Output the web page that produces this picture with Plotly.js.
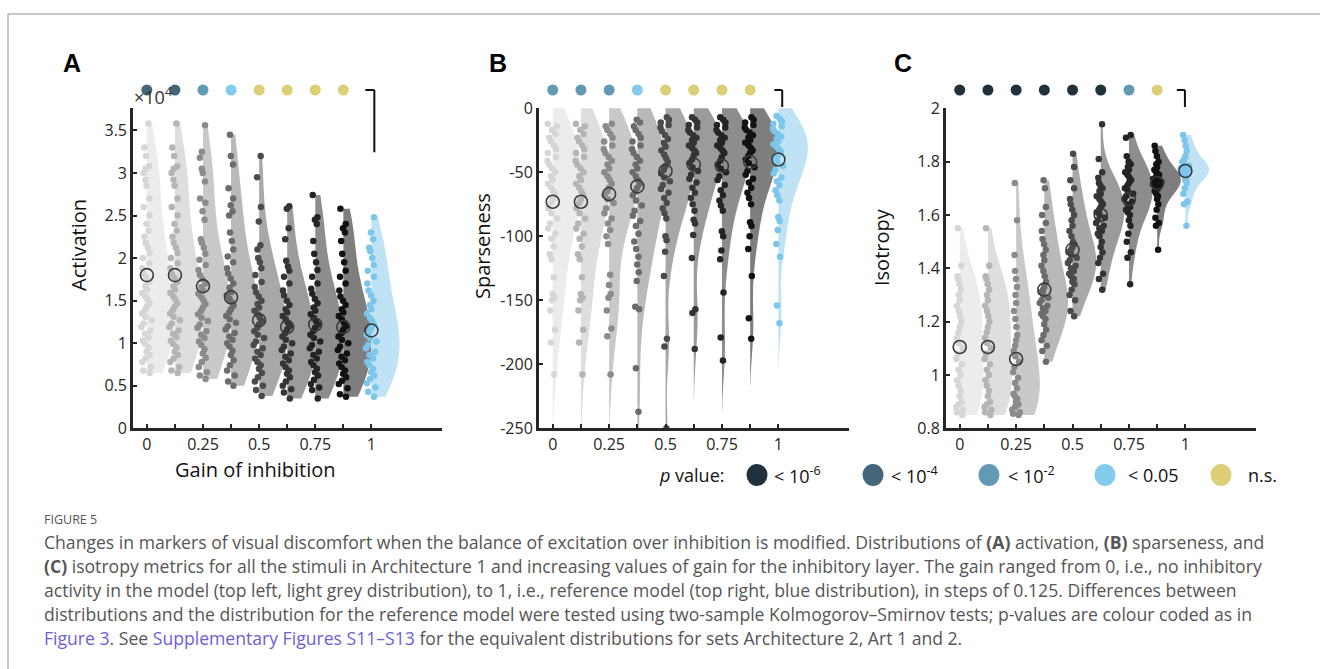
<!DOCTYPE html>
<html><head><meta charset="utf-8">
<script src="https://cdn.plot.ly/plotly-3.0.1.min.js"></script>
<style>body{margin:0;background:#fff}#plot{width:1320px;height:669px}</style>
</head><body><div id="plot"></div>
<script>
// ---------------- DATA ----------------
const gains = [0, 0.125, 0.25, 0.375, 0.5, 0.625, 0.75, 0.875, 1];
const xLabelVals = [0, 0.25, 0.5, 0.75, 1];
const xTickText = ['0', '0.25', '0.5', '0.75', '1'];

// Panel A: Activation (x 10^4)
const actG0 = [0.65,0.68,0.72,0.78,0.82,0.86,0.90,0.95,0.99,1.03,1.07,1.11,1.15,1.19,1.23,1.27,1.31,1.35,1.39,1.43,1.47,1.51,1.55,1.59,1.63,1.67,1.72,1.77,1.82,1.88,1.94,2.00,2.06,2.12,2.18,2.25,2.32,2.40,2.50,2.60,2.70,2.85,2.92,3.00,3.05,3.08,3.20,3.30,3.58];
const actG1 = [0.65,0.68,0.72,0.78,0.82,0.86,0.90,0.95,0.99,1.03,1.07,1.11,1.15,1.19,1.23,1.27,1.31,1.35,1.39,1.43,1.47,1.51,1.55,1.59,1.63,1.67,1.72,1.77,1.82,1.88,1.94,2.00,2.06,2.12,2.18,2.25,2.32,2.40,2.50,2.60,2.70,2.85,2.92,3.00,3.05,3.08,3.20,3.30,3.58];
const actG2 = [0.58,0.62,0.66,0.72,0.78,0.83,0.88,0.93,0.98,1.02,1.06,1.10,1.14,1.18,1.22,1.26,1.30,1.34,1.38,1.42,1.46,1.50,1.54,1.58,1.62,1.66,1.70,1.75,1.80,1.86,1.92,1.98,2.05,2.12,2.18,2.22,2.45,2.55,2.65,2.70,2.90,3.00,3.05,3.18,3.25,3.56];
const actG3 = [0.50,0.55,0.62,0.68,0.74,0.80,0.86,0.91,0.96,1.00,1.04,1.08,1.12,1.16,1.20,1.24,1.28,1.32,1.36,1.40,1.44,1.48,1.52,1.56,1.60,1.65,1.70,1.76,1.82,1.88,1.95,2.02,2.10,2.20,2.30,2.50,2.55,2.62,2.70,2.82,3.10,3.20,3.45];
const actG4 = [0.38,0.45,0.50,0.55,0.60,0.65,0.70,0.74,0.78,0.82,0.86,0.90,0.94,0.98,1.02,1.06,1.10,1.14,1.18,1.22,1.26,1.30,1.34,1.38,1.42,1.46,1.50,1.55,1.60,1.66,1.72,1.80,1.88,1.95,2.00,2.10,2.15,2.43,2.60,2.95,3.20];
const actG5 = [0.35,0.42,0.46,0.50,0.55,0.60,0.64,0.68,0.72,0.76,0.80,0.84,0.88,0.92,0.96,1.00,1.04,1.08,1.12,1.16,1.20,1.24,1.28,1.32,1.36,1.40,1.45,1.50,1.56,1.62,1.70,1.78,1.85,1.90,1.97,2.22,2.35,2.58,2.61];
const actG6 = [0.35,0.45,0.48,0.52,0.57,0.62,0.66,0.70,0.74,0.78,0.82,0.86,0.90,0.94,0.98,1.02,1.06,1.10,1.14,1.18,1.22,1.26,1.30,1.34,1.38,1.42,1.47,1.52,1.58,1.64,1.70,1.78,1.86,1.95,2.05,2.20,2.40,2.45,2.48,2.74];
const actG7 = [0.37,0.40,0.47,0.52,0.56,0.60,0.64,0.68,0.72,0.76,0.80,0.84,0.88,0.92,0.96,1.00,1.04,1.08,1.12,1.16,1.20,1.24,1.28,1.32,1.36,1.40,1.45,1.50,1.55,1.62,1.70,1.78,1.85,1.95,2.05,2.20,2.30,2.35,2.40,2.58];
const actG8 = [0.37,0.43,0.48,0.53,0.58,0.62,0.66,0.70,0.74,0.78,0.82,0.86,0.90,0.94,0.98,1.02,1.06,1.10,1.14,1.18,1.22,1.26,1.30,1.35,1.40,1.45,1.50,1.56,1.62,1.70,1.78,1.85,1.92,2.00,2.08,2.12,2.22,2.30,2.48];
const actMeans = [1.80, 1.80, 1.67, 1.54, 1.27, 1.19, 1.22, 1.19, 1.15];
const actTicks = [0, 0.5, 1, 1.5, 2, 2.5, 3, 3.5];
const actTickText = ['0', '0.5', '1', '1.5', '2', '2.5', '3', '3.5'];

// Panel B: Sparseness
const spaG0 = [-12,-14,-17,-20,-23,-26,-29,-32,-35,-38,-41,-44,-47,-50,-53,-56,-59,-62,-65,-68,-71,-74,-78,-82,-86,-90,-94,-98,-102,-108,-114,-118,-132,-145,-148,-150,-158,-173,-183,-208];
const spaG1 = [-12,-14,-17,-20,-23,-26,-29,-32,-35,-38,-41,-44,-47,-50,-53,-56,-59,-62,-65,-68,-71,-74,-78,-82,-86,-90,-94,-98,-102,-108,-114,-118,-132,-145,-148,-150,-158,-173,-183,-208];
const spaG2 = [-12,-14,-17,-20,-23,-26,-29,-32,-35,-38,-41,-44,-47,-50,-53,-56,-59,-62,-65,-68,-71,-74,-78,-82,-86,-90,-95,-100,-106,-130,-138,-145,-148,-158,-172,-178,-208];
const spaG3 = [-9,-11,-14,-17,-20,-23,-26,-29,-32,-35,-38,-41,-44,-47,-50,-53,-56,-59,-62,-65,-68,-72,-76,-80,-84,-88,-92,-98,-104,-110,-116,-122,-128,-135,-155,-157,-203,-237];
const spaG4 = [-7,-9,-11,-13,-15,-18,-21,-24,-27,-30,-33,-36,-39,-42,-45,-48,-51,-54,-57,-60,-63,-66,-70,-74,-78,-82,-86,-100,-103,-112,-131,-180,-186,-250];
const spaG5 = [-7,-9,-11,-13,-15,-17,-19,-21,-23,-25,-27,-29,-31,-33,-35,-37,-40,-43,-46,-49,-52,-55,-58,-62,-66,-70,-75,-80,-87,-90,-99,-117,-157,-160,-188];
const spaG6 = [-7,-9,-11,-13,-15,-17,-19,-21,-23,-25,-27,-29,-31,-33,-35,-38,-41,-44,-47,-50,-53,-56,-60,-64,-68,-72,-76,-80,-96,-100,-111,-118,-144,-179,-197];
const spaG7 = [-7,-9,-11,-13,-15,-17,-19,-21,-23,-25,-27,-29,-31,-33,-35,-37,-40,-43,-46,-49,-52,-55,-58,-62,-66,-70,-75,-89,-92,-100,-110,-131,-164,-180];
const spaG8 = [-6,-8,-10,-12,-14,-16,-18,-20,-22,-24,-26,-28,-30,-32,-34,-36,-38,-40,-42,-45,-48,-51,-54,-57,-60,-64,-68,-72,-85,-88,-95,-106,-116,-154,-168];
const spaMeans = [-73, -73, -67, -61, -49, -44, -45, -42, -40];
const spaTicks = [-250, -200, -150, -100, -50, 0];
const spaTickText = ['-250', '-200', '-150', '-100', '-50', '0'];

// Panel C: Isotropy
const isoG0 = [0.85,0.86,0.87,0.88,0.89,0.90,0.92,0.94,0.96,0.98,1.00,1.02,1.04,1.06,1.08,1.10,1.12,1.14,1.16,1.18,1.20,1.22,1.24,1.26,1.28,1.30,1.32,1.34,1.36,1.37,1.41,1.55];
const isoG1 = [0.85,0.86,0.87,0.88,0.89,0.90,0.92,0.94,0.96,0.98,1.00,1.02,1.04,1.06,1.08,1.10,1.12,1.14,1.16,1.18,1.20,1.22,1.24,1.26,1.28,1.30,1.32,1.34,1.36,1.37,1.41,1.55];
const isoG2 = [0.85,0.855,0.86,0.87,0.88,0.89,0.90,0.91,0.92,0.93,0.95,0.97,0.99,1.01,1.03,1.05,1.07,1.09,1.11,1.13,1.15,1.18,1.21,1.24,1.27,1.30,1.33,1.36,1.39,1.45,1.58,1.72];
const isoG3 = [1.05,1.09,1.11,1.13,1.15,1.17,1.19,1.21,1.22,1.23,1.24,1.25,1.26,1.27,1.28,1.29,1.30,1.31,1.32,1.33,1.35,1.37,1.39,1.41,1.43,1.45,1.47,1.49,1.51,1.54,1.57,1.60,1.63,1.70,1.73];
const isoG4 = [1.22,1.24,1.28,1.30,1.32,1.34,1.35,1.36,1.37,1.38,1.39,1.40,1.41,1.42,1.43,1.44,1.45,1.46,1.47,1.48,1.49,1.50,1.52,1.54,1.56,1.58,1.60,1.62,1.64,1.66,1.70,1.73,1.78,1.83];
const isoG5 = [1.32,1.36,1.38,1.42,1.44,1.46,1.48,1.50,1.52,1.53,1.54,1.55,1.56,1.57,1.58,1.59,1.60,1.61,1.62,1.63,1.64,1.65,1.66,1.67,1.68,1.69,1.70,1.71,1.72,1.74,1.76,1.81,1.94];
const isoG6 = [1.34,1.44,1.46,1.50,1.53,1.56,1.58,1.60,1.61,1.62,1.63,1.64,1.65,1.66,1.67,1.68,1.69,1.70,1.71,1.72,1.73,1.74,1.75,1.76,1.77,1.78,1.79,1.80,1.82,1.89,1.90];
const isoG7 = [1.47,1.56,1.57,1.59,1.62,1.64,1.66,1.67,1.68,1.69,1.70,1.705,1.71,1.715,1.72,1.725,1.73,1.735,1.74,1.745,1.75,1.755,1.76,1.77,1.78,1.79,1.80,1.82,1.84,1.86];
const isoG8 = [1.56,1.64,1.65,1.68,1.70,1.72,1.73,1.74,1.75,1.755,1.76,1.765,1.77,1.775,1.78,1.785,1.79,1.80,1.81,1.82,1.84,1.86,1.88,1.90];
const isoMeans = [1.105, 1.105, 1.06, 1.32, 1.47, 1.60, 1.66, 1.72, 1.765];
const isoTicks = [0.8, 1, 1.2, 1.4, 1.6, 1.8, 2];
const isoTickText = ['0.8', '1', '1.2', '1.4', '1.6', '1.8', '2'];

// p-value significance level per gain (vs reference), index into pLabels
const pLabels = ['< 10<sup>-6</sup>', '< 10<sup>-4</sup>', '< 10<sup>-2</sup>', '< 0.05', 'n.s.'];
const actP = [1, 1, 2, 3, 4, 4, 4, 4];
const spaP = [2, 2, 2, 3, 4, 4, 4, 4];
const isoP = [0, 0, 0, 0, 0, 0, 2, 4];

// ---------------- STYLE ----------------
const pColors = ['#1f323c', '#446679', '#6499b6', '#85cbee', '#dccf78'];
const pointColors = ['#d6d6d6', '#b5b5b5', '#8b8b8b', '#6c6c6c', '#4b4b4b', '#343434', '#242424', '#121212', '#7cc6ec'];
const violinFills = ['#ececec', '#dedede', '#c9c9c9', '#b9b9b9', '#a8a8a8', '#9b9b9b', '#8d8d8d', '#7e7e7e', '#bfe2f5'];
const W = 1320, H = 669;
const px = x => x / W;
const py = y => 1 - y / H;
const font = 'Open Sans, Noto Sans, DejaVu Sans, sans-serif';
const axColor = '#262626';

const panels = [
  {groups:[actG0,actG1,actG2,actG3,actG4,actG5,actG6,actG7,actG8], means:actMeans, p:actP, xa:'x', ya:'y', range:[0,3.76], ticks:actTicks, tickText:actTickText, dom:[132.7,441.7], width:0.25, span:'hard'},
  {groups:[spaG0,spaG1,spaG2,spaG3,spaG4,spaG5,spaG6,spaG7,spaG8], means:spaMeans, p:spaP, xa:'x2', ya:'y2', range:[-250,0], ticks:spaTicks, tickText:spaTickText, dom:[538.5,849], width:0.26, span:'soft'},
  {groups:[isoG0,isoG1,isoG2,isoG3,isoG4,isoG5,isoG6,isoG7,isoG8], means:isoMeans, p:isoP, xa:'x3', ya:'y3', range:[0.8,2.0], ticks:isoTicks, tickText:isoTickText, dom:[945.5,1256], width:0.21, span:'hard'}
];
const yDom = [py(428.3), py(108.3)];
const xRange = [-0.063, 1.313];
const dotY = 1 + (428.3 - 90 - 320) / 320;   // y-domain position of the significance dots / bracket

const traces = [];
const layout = {
  width: W, height: H, autosize: false,
  margin: {l:0, r:0, t:0, b:0, pad:0},
  paper_bgcolor: '#ffffff', plot_bgcolor: 'rgba(0,0,0,0)',
  showlegend: false, violinmode: 'overlay',
  font: {family: font, color: axColor},
  annotations: [], shapes: []
};

panels.forEach((P, k) => {
  const sfx = k === 0 ? '' : String(k + 1);
  P.groups.forEach((vals, i) => {
    traces.push({
      type: 'violin', orientation: 'v', x0: gains[i], y: vals,
      xaxis: P.xa, yaxis: P.ya, side: 'positive', width: P.width,
      scalegroup: 'panel' + k, scalemode: 'width', spanmode: P.span,
      points: 'all', pointpos: 0, jitter: 0.2,
      fillcolor: violinFills[i], line: {width: 0, color: violinFills[i]},
      marker: {color: pointColors[i], size: 6.5, line: {width: 0}},
      box: {visible: false}, meanline: {visible: false},
      hoverinfo: 'skip', showlegend: false
    });
  });
  traces.push({
    type: 'scatter', mode: 'markers', x: gains, y: P.means, xaxis: P.xa, yaxis: P.ya,
    marker: {symbol: 'circle-open', size: 13, color: '#3a3a3a', line: {width: 1.6, color: '#3a3a3a'}},
    hoverinfo: 'skip', showlegend: false
  });
  // significance dots above each non-reference distribution
  P.p.forEach((j, i) => {
    layout.shapes.push({type:'circle', xref:P.xa, yref:P.ya + ' domain', xsizemode:'pixel', ysizemode:'pixel',
      xanchor:gains[i], yanchor:dotY, x0:-5.5, x1:5.5, y0:-5.5, y1:5.5,
      fillcolor:pColors[j], line:{width:0}});
  });
  layout['xaxis' + sfx] = {
    domain: [px(P.dom[0]), px(P.dom[1])], anchor: P.ya, type: 'linear', range: xRange,
    tickmode: 'array', tickvals: xLabelVals, ticktext: xTickText,
    ticks: 'inside', ticklen: 4, tickwidth: 2, tickcolor: axColor,
    minor: {tickmode: 'array', tickvals: gains, ticks: 'inside', ticklen: 4, tickwidth: 2, tickcolor: axColor, showgrid: false},
    showline: true, linewidth: 2.5, linecolor: axColor,
    showgrid: false, zeroline: false, fixedrange: true,
    tickfont: {family: font, size: 16, color: axColor}
  };
  layout['yaxis' + sfx] = {
    domain: yDom, anchor: P.xa, type: 'linear', range: P.range,
    tickmode: 'array', tickvals: P.ticks, ticktext: P.tickText,
    ticks: 'inside', ticklen: 4, tickwidth: 2, tickcolor: axColor,
    showline: true, linewidth: 2.5, linecolor: axColor,
    showgrid: false, zeroline: false, fixedrange: true,
    tickfont: {family: font, size: 16, color: axColor}
  };
});

// brackets marking the reference distribution
const brackets = [
  {xr:'x', yr:'y domain', x0:0.973, x1:1.013, bottom:0.863},
  {xr:'x2', yr:'y2 domain', x0:0.982, x1:1.017, bottom:1.004},
  {xr:'x3', yr:'y3 domain', x0:0.962, x1:0.998, bottom:1.004}
];
brackets.forEach(b => {
  layout.shapes.push({type:'line', xref:b.xr, yref:b.yr, x0:b.x0, x1:b.x1, y0:dotY, y1:dotY, line:{color:'#111', width:2}});
  layout.shapes.push({type:'line', xref:b.xr, yref:b.yr, x0:b.x1, x1:b.x1, y0:dotY, y1:b.bottom, line:{color:'#111', width:2}});
});

// outer frame
layout.shapes.push({type:'line', xref:'paper', yref:'paper', x0:px(8), x1:1, y0:py(14), y1:py(14), line:{color:'#b5b5b5', width:1.5}});
layout.shapes.push({type:'line', xref:'paper', yref:'paper', x0:px(8), x1:px(8), y0:py(14), y1:0, line:{color:'#b5b5b5', width:1.5}});

function ann(text, x, y, opts) {
  layout.annotations.push(Object.assign({text, x:px(x), y:py(y), xref:'paper', yref:'paper', showarrow:false,
    xanchor:'center', yanchor:'middle', font:{family:font, size:15, color:axColor}}, opts || {}));
}
// panel letters
ann('<b>A</b>', 72, 63, {font:{family:'Liberation Sans, Arial, sans-serif', size:25, color:'#000'}});
ann('<b>B</b>', 498, 63, {font:{family:'Liberation Sans, Arial, sans-serif', size:25, color:'#000'}});
ann('<b>C</b>', 903, 63, {font:{family:'Liberation Sans, Arial, sans-serif', size:25, color:'#000'}});
// exponent
ann('×10<sup>4</sup>', 132, 96, {xanchor:'left', font:{family:font, size:18, color:'#333'}});
// axis titles
ann('Activation', 78, 245, {textangle:-90, font:{family:font, size:20, color:'#111'}});
ann('Sparseness', 483, 246, {textangle:-90, font:{family:font, size:20, color:'#111'}});
ann('Isotropy', 881, 247, {textangle:-90, font:{family:font, size:20, color:'#111'}});
ann('Gain of inhibition', 255, 470, {font:{family:font, size:20, color:'#111'}});

// p-value legend
ann('<i>p</i> value:', 657, 475, {xanchor:'left', font:{family:font, size:18, color:'#111'}});
const legCx = [757, 873, 989, 1105, 1221];
const legTx = [772, 889, 1006, 1126, 1246];
pLabels.forEach((lab, j) => {
  layout.shapes.push({type:'circle', xref:'paper', yref:'paper', xsizemode:'pixel', ysizemode:'pixel',
    xanchor:px(legCx[j]), yanchor:py(475), x0:-10.5, x1:10.5, y0:-11, y1:11,
    fillcolor:pColors[j], line:{width:0}});
  ann(lab, legTx[j], 475, {xanchor:'left', font:{family:font, size:18, color:'#111'}});
});

// caption
const capColor = '#555555';
const linkColor = '#6b5fd6';
const capFont = {family:font, size:17.6, color:capColor};
ann('FIGURE 5', 42, 519, {xanchor:'left', font:{family:font, size:12.5, color:capColor}});
const capLines = [
  'Changes in markers of visual discomfort when the balance of excitation over inhibition is modified. Distributions of <b>(A)</b> activation, <b>(B)</b> sparseness, and',
  '<b>(C)</b> isotropy metrics for all the stimuli in Architecture 1 and increasing values of gain for the inhibitory layer. The gain ranged from 0, i.e., no inhibitory',
  'activity in the model (top left, light grey distribution), to 1, i.e., reference model (top right, blue distribution), in steps of 0.125. Differences between',
  'distributions and the distribution for the reference model were tested using two-sample Kolmogorov–Smirnov tests; p-values are colour coded as in',
  '<span style="color:' + linkColor + '">Figure 3</span>. See <span style="color:' + linkColor + '">Supplementary Figures S11–S13</span> for the equivalent distributions for sets Architecture 2, Art 1 and 2.'
];
capLines.forEach((t, i) => ann(t, 42, 542 + 24 * i, {xanchor:'left', font:capFont}));

Plotly.newPlot('plot', traces, layout, {staticPlot: true, displayModeBar: false});
</script>
</body></html>
